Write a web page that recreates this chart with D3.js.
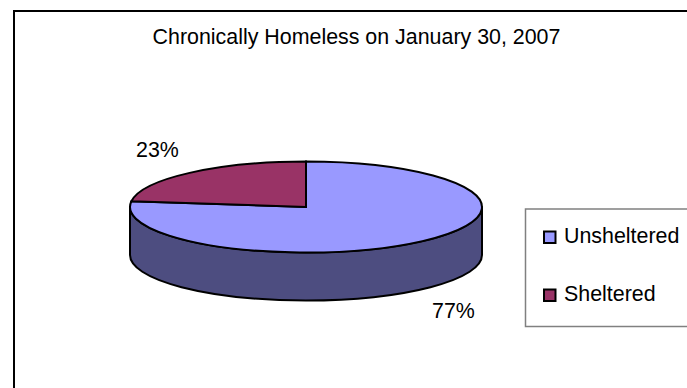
<!DOCTYPE html>
<html><head><meta charset="utf-8">
<script src="https://cdn.jsdelivr.net/npm/d3@7"></script>
<style>html,body{margin:0;padding:0;background:#fff}svg{display:block}text{font-family:"Liberation Sans",Arial,sans-serif;fill:#000}</style>
</head><body><svg id="c" width="687" height="388"></svg>
<script>
const title = "Chronically Homeless on January 30, 2007";
const categories = ["Unsheltered", "Sheltered"];
const values = [77, 23];
const labels = ["77%", "23%"];
const topColors = ["#9999ff", "#993366"];
const sideColor = "#4d4d80";

const svg = d3.select("#c");
const W = 687, H = 388;
const cx = 306, cy = 207, rx = 176, ry = 45.5, depth = 48;
const fontSize = 21.4;

svg.append("rect").attr("x",14).attr("y",11).attr("width",W+20).attr("height",H+20)
  .attr("fill","#fff").attr("stroke","#000").attr("stroke-width",2);
svg.append("text").attr("x",356.5).attr("y",44).attr("text-anchor","middle")
  .attr("font-size",fontSize).text(title);

// side wall
svg.append("path")
  .attr("d",`M${cx-rx},${cy}L${cx-rx},${cy+depth}A${rx},${ry} 0 0 0 ${cx+rx},${cy+depth}L${cx+rx},${cy}A${rx},${ry} 0 0 1 ${cx-rx},${cy}Z`)
  .attr("fill",sideColor).attr("stroke","#000").attr("stroke-width",2).attr("stroke-linejoin","round");

// top slices
const pie = d3.pie().sort(null).value(d=>d)(values);
const arc = d3.arc().innerRadius(0).outerRadius(rx);
svg.append("g").attr("transform",`translate(${cx},${cy}) scale(1,${ry/rx})`)
  .selectAll("path").data(pie).join("path")
  .attr("d",arc).attr("fill",(d,i)=>topColors[i])
  .attr("stroke","#000").attr("stroke-width",2).attr("stroke-linejoin","miter")
  .attr("vector-effect","non-scaling-stroke");

// data labels
const labelPos = [[453.5,318],[157.5,157]];
svg.selectAll("text.lab").data(labels).join("text").attr("class","lab")
  .attr("x",(d,i)=>labelPos[i][0]).attr("y",(d,i)=>labelPos[i][1])
  .attr("text-anchor","middle").attr("font-size",fontSize).text(d=>d);

// legend
svg.append("rect").attr("x",525.5).attr("y",209).attr("width",200).attr("height",117.5)
  .attr("fill","#fff").attr("stroke","#808080").attr("stroke-width",1.5);
const rows = svg.selectAll("g.row").data(categories).join("g").attr("class","row")
  .attr("transform",(d,i)=>`translate(0,${d3.scaleLinear([0,1],[237,295])(i)})`);
rows.append("rect").attr("x",544).attr("y",-5.5).attr("width",11.5).attr("height",11.5)
  .attr("fill",(d,i)=>topColors[i]).attr("stroke","#000").attr("stroke-width",2);
rows.append("text").attr("x",564).attr("y",6).attr("font-size",fontSize).text(d=>d);
</script></body></html>
